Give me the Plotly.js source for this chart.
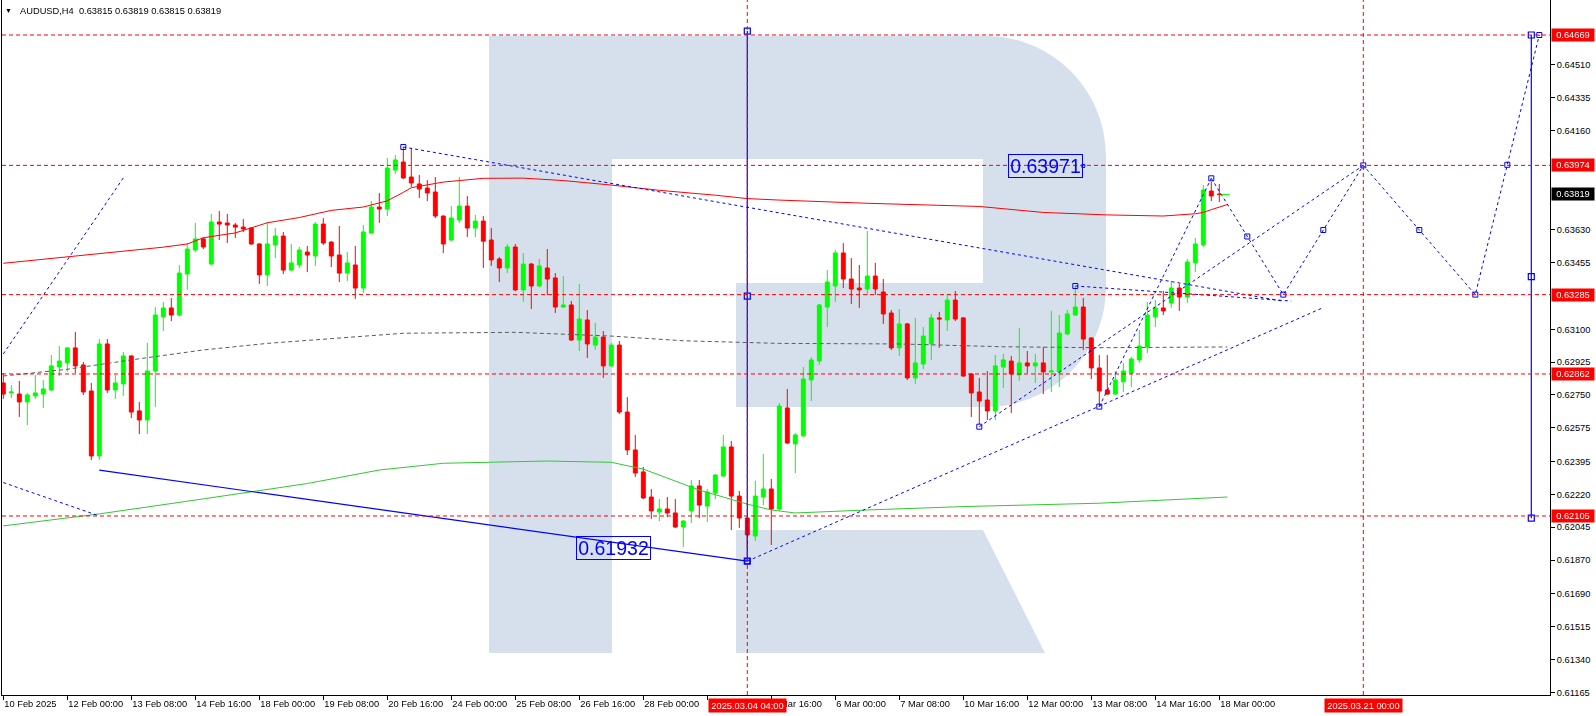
<!DOCTYPE html>
<html><head><meta charset="utf-8">
<script src="https://cdn.plot.ly/plotly-3.0.1.min.js"></script>
<style>html,body{margin:0;padding:0;background:#fff;overflow:hidden}#chart{width:1596px;height:716px}</style>
</head><body><div id="chart"></div>
<script>
// ---------- DATA (AUDUSD H4, one bar per index, 0 = 10 Feb 2025 16:00) ----------
const open = [
0.62814,0.62761,0.62755,0.62713,0.62745,0.62755,0.62777,0.62899,0.62921,0.63001,
0.62910,0.62771,0.62425,0.63022,0.62777,0.62809,0.62958,0.62665,0.62617,0.62878,
0.63166,0.63214,0.63176,0.63395,0.63523,0.63582,0.63448,0.63672,0.63667,0.63656,
0.63645,0.63640,0.63555,0.63390,0.63550,0.63597,0.63416,0.63443,0.63512,0.63491,
0.63661,0.63565,0.63496,0.63400,0.63443,0.63320,0.63613,0.63752,0.63741,0.63949,
0.63992,0.63912,0.63875,0.63853,0.63832,0.63704,0.63576,0.63683,0.63757,0.63640,
0.63677,0.63576,0.63475,0.63427,0.63539,0.63310,0.63448,0.63331,0.63427,0.63374,
0.63219,0.63230,0.63043,0.63150,0.63016,0.63059,0.62905,0.63016,0.62659,0.62457,
0.62340,0.62206,0.62126,0.62142,0.62121,0.62046,0.62132,0.62265,0.62158,0.62227,
0.62318,0.62473,0.62211,0.62094,0.61998,0.62206,0.62249,0.62142,0.62681,0.62489,
0.62532,0.62830,0.62931,0.63219,0.63331,0.63507,0.63368,0.63320,0.63315,0.63384,
0.63299,0.63187,0.63001,0.63129,0.62841,0.62915,0.63022,0.63161,0.63150,0.63256,
0.63161,0.62862,0.62766,0.62723,0.62665,0.62899,0.62931,0.62857,0.62921,0.62905,
0.62921,0.62873,0.62873,0.63075,0.63176,0.63219,0.63054,0.62894,0.62777,0.62755,
0.62820,0.62867,0.62937,0.63006,0.63166,0.63214,0.63240,0.63320,0.63272,0.63454,
0.63550,0.63837,0.63821];
const high = [
0.62867,0.62803,0.62825,0.62761,0.62857,0.62830,0.62963,0.63011,0.63006,0.63086,
0.62926,0.62814,0.63048,0.63048,0.62857,0.62979,0.62963,0.62713,0.63027,0.63219,
0.63246,0.63267,0.63443,0.63560,0.63667,0.63592,0.63715,0.63731,0.63715,0.63667,
0.63688,0.63645,0.63560,0.63672,0.63640,0.63619,0.63555,0.63539,0.63544,0.63672,
0.63693,0.63570,0.63651,0.63512,0.63544,0.63656,0.63784,0.63827,0.64013,0.64029,
0.64072,0.64067,0.63923,0.63896,0.63912,0.63707,0.63757,0.63912,0.63810,0.63710,
0.63704,0.63640,0.63485,0.63555,0.63555,0.63507,0.63454,0.63475,0.63528,0.63400,
0.63384,0.63251,0.63342,0.63203,0.63134,0.63091,0.63027,0.63038,0.62739,0.62537,
0.62366,0.62249,0.62195,0.62206,0.62195,0.62084,0.62297,0.62297,0.62249,0.62329,
0.62537,0.62505,0.62238,0.62105,0.62292,0.62435,0.62302,0.62707,0.62782,0.62548,
0.62899,0.62952,0.63235,0.63416,0.63523,0.63560,0.63480,0.63443,0.63624,0.63454,
0.63368,0.63203,0.63208,0.63134,0.63161,0.63112,0.63182,0.63193,0.63288,0.63304,
0.63166,0.62867,0.62841,0.62878,0.62963,0.62969,0.62958,0.63107,0.62985,0.62969,
0.63006,0.63198,0.63176,0.63203,0.63331,0.63267,0.63059,0.62963,0.62963,0.62878,
0.62921,0.62952,0.63096,0.63246,0.63256,0.63304,0.63358,0.63342,0.63475,0.63587,
0.63869,0.63885,0.63875];
const low = [
0.62729,0.62734,0.62633,0.62590,0.62729,0.62681,0.62771,0.62851,0.62873,0.62867,
0.62750,0.62403,0.62403,0.62761,0.62729,0.62745,0.62627,0.62542,0.62542,0.62686,
0.63091,0.63144,0.63171,0.63310,0.63512,0.63528,0.63443,0.63576,0.63560,0.63587,
0.63619,0.63550,0.63342,0.63331,0.63480,0.63395,0.63411,0.63427,0.63405,0.63438,
0.63550,0.63432,0.63352,0.63358,0.63262,0.63294,0.63608,0.63667,0.63704,0.63928,
0.63901,0.63859,0.63800,0.63784,0.63693,0.63507,0.63570,0.63667,0.63592,0.63592,
0.63427,0.63438,0.63352,0.63400,0.63304,0.63246,0.63208,0.63326,0.63283,0.63187,
0.63214,0.63038,0.62984,0.62947,0.62990,0.62841,0.62899,0.62649,0.62430,0.62313,
0.62195,0.62089,0.62078,0.62099,0.62041,0.61940,0.62068,0.62094,0.62073,0.62195,
0.62313,0.62030,0.62041,0.61932,0.61972,0.62163,0.61950,0.62132,0.62489,0.62334,
0.62526,0.62718,0.62910,0.63112,0.63246,0.63320,0.63235,0.63214,0.63283,0.63283,
0.63129,0.62990,0.62958,0.62830,0.62809,0.62888,0.62937,0.63001,0.63091,0.63144,
0.62846,0.62633,0.62595,0.62617,0.62617,0.62787,0.62654,0.62825,0.62867,0.62814,
0.62755,0.62766,0.62793,0.63070,0.63171,0.62990,0.62835,0.62697,0.62750,0.62750,
0.62766,0.62793,0.62921,0.62974,0.63112,0.63176,0.63214,0.63198,0.63240,0.63405,
0.63539,0.63784,0.63779];
const close = [
0.62755,0.62766,0.62713,0.62750,0.62761,0.62782,0.62905,0.62931,0.63001,0.62905,
0.62766,0.62425,0.63022,0.62777,0.62814,0.62958,0.62659,0.62617,0.62878,0.63176,
0.63214,0.63176,0.63400,0.63528,0.63582,0.63539,0.63672,0.63661,0.63656,0.63645,
0.63635,0.63555,0.63390,0.63555,0.63597,0.63416,0.63454,0.63523,0.63496,0.63661,
0.63560,0.63491,0.63400,0.63454,0.63320,0.63619,0.63752,0.63741,0.63960,0.64003,
0.63907,0.63880,0.63848,0.63827,0.63704,0.63555,0.63693,0.63757,0.63640,0.63677,
0.63570,0.63470,0.63427,0.63539,0.63310,0.63448,0.63331,0.63438,0.63368,0.63219,
0.63230,0.63043,0.63155,0.63022,0.63059,0.62905,0.63016,0.62659,0.62457,0.62334,
0.62201,0.62132,0.62142,0.62121,0.62046,0.62078,0.62265,0.62163,0.62233,0.62323,
0.62473,0.62211,0.62094,0.62004,0.62211,0.62249,0.62142,0.62691,0.62494,0.62537,
0.62835,0.62937,0.63230,0.63352,0.63507,0.63368,0.63315,0.63310,0.63384,0.63315,
0.63182,0.63001,0.63129,0.62841,0.62921,0.63064,0.63161,0.63155,0.63256,0.63155,
0.62851,0.62761,0.62718,0.62665,0.62905,0.62937,0.62862,0.62921,0.62905,0.62921,
0.62873,0.62878,0.63080,0.63182,0.63219,0.63048,0.62894,0.62771,0.62755,0.62830,
0.62878,0.62942,0.63011,0.63176,0.63214,0.63198,0.63320,0.63272,0.63459,0.63555,
0.63843,0.63811,0.63819];

// moving averages (bar index, value)
const maRedBars = [0,4,8,12,16,20,23,25,29,33,37,41,45,48,50,51,55,60,65,70,76,82,89,93,97,108,122,130,138,145,149,150,151,152,153];
const maRedVals = [0.63452,0.63469,0.63487,0.63501,0.63518,0.63538,0.63555,0.63588,0.63614,0.63668,0.63696,0.63734,0.63752,0.63785,0.63830,0.63855,0.63885,0.63905,0.63906,0.63893,0.63869,0.63841,0.63815,0.63797,0.63789,0.63772,0.63755,0.63723,0.63710,0.63704,0.63716,0.63723,0.63738,0.63753,0.63765];
const maGrayBars = [0,8,16,25,33,41,50,64,70,76,85,97,112,125,137,150,153];
const maGrayVals = [0.62851,0.62887,0.62937,0.62990,0.63025,0.63052,0.63079,0.63084,0.63075,0.63064,0.63039,0.63025,0.63022,0.63007,0.63002,0.63004,0.63006];
const maGreenBars = [0,12,25,38,47,55,68,76,80,84,87,90,93,96,99,108,120,137,150,153];
const maGreenVals = [0.62052,0.62116,0.62196,0.62278,0.62350,0.62386,0.62398,0.62391,0.62355,0.62291,0.62243,0.62206,0.62168,0.62137,0.62121,0.62137,0.62155,0.62173,0.62200,0.62206];

// horizontal price levels and marked times
const levels = [0.64669, 0.63974, 0.63285, 0.62862, 0.62105];
const lastPrice = 0.63819;
const markBars = [93, 170];
const markLabels = ["2025.03.04 04:00", "2025.03.21 00:00"];

// axis ticks
const tickBars = [0,8,16,24,32,40,48,56,64,72,80,88,96,104,112,120,128,136,144,152];
const tickLabels = ["10 Feb 2025","12 Feb 00:00","13 Feb 08:00","14 Feb 16:00","18 Feb 00:00","19 Feb 08:00","20 Feb 16:00","24 Feb 00:00","25 Feb 08:00","26 Feb 16:00","28 Feb 00:00","3 Mar 08:00","4 Mar 16:00","6 Mar 00:00","7 Mar 08:00","10 Mar 16:00","12 Mar 00:00","13 Mar 08:00","14 Mar 16:00","18 Mar 00:00"];
const priceTicks = [0.64510,0.64335,0.64160,0.63630,0.63455,0.63100,0.62925,0.62750,0.62575,0.62395,0.62220,0.62045,0.61870,0.61690,0.61515,0.61340,0.61165];

// drawn objects
const solidBars = [12, 93];            // solid trend line
const solidPrices = [0.62349, 0.61864];
const vBarsL = [93, 93];  const vPricesL = [0.64690, 0.61864];
const vBarsR = [191, 191]; const vPricesR = [0.64669, 0.62093];
const trendBarsA  = [0, 0, 50, 93, 134, 122, 137];
const trendPriceA = [0.62969, 0.62283, 0.64072, 0.61864, 0.63331, 0.62581, 0.62688];
const trendBarsB  = [15, 12, 160, 165, 161, 170, 151];
const trendPriceB = [0.63907, 0.62105, 0.63250, 0.63216, 0.63251, 0.63974, 0.63905];
const zigBars = [151, 160, 170, 184, 192];
const zigPrices = [0.63905, 0.63285, 0.63974, 0.63285, 0.64669];
const textPrices = [0.63971, 0.61932];
const textBars = [135, 81];

// ---------- FIGURE ----------
const FONT = 'Liberation Sans, Arial, sans-serif';
const BLUE = '#0000ff';
const bars = open.map((_, i) => i);
const traces = [];

traces.push({
  type: 'candlestick', x: bars, open: open, high: high, low: low, close: close,
  increasing: {line: {color: '#00ff00', width: 1}, fillcolor: '#00ff00'},
  decreasing: {line: {color: '#ff0000', width: 1}, fillcolor: '#ff0000'},
  whiskerwidth: 0, hoverinfo: 'skip', showlegend: false
});
traces.push({type:'scatter', mode:'lines', x: maGreenBars, y: maGreenVals, line:{color:'#32c832', width:1}, hoverinfo:'skip', showlegend:false});
traces.push({type:'scatter', mode:'lines', x: maGrayBars, y: maGrayVals, line:{color:'#5a5a5a', width:1, dash:'4px,3px'}, hoverinfo:'skip', showlegend:false});
traces.push({type:'scatter', mode:'lines', x: maRedBars, y: maRedVals, line:{color:'#ff0000', width:1}, hoverinfo:'skip', showlegend:false});

// dashed trend lines
for (let i = 0; i < trendBarsA.length; i++) {
  traces.push({type:'scatter', mode:'lines', x:[trendBarsA[i], trendBarsB[i]], y:[trendPriceA[i], trendPriceB[i]],
    line:{color:BLUE, width:1, dash:'3px,3px'}, hoverinfo:'skip', showlegend:false});
}
// handles on some dashed line starts
traces.push({type:'scatter', mode:'markers', x: trendBarsA.slice(2), y: trendPriceA.slice(2),
  marker:{symbol:'square-open', size:5, color:BLUE, line:{width:1}}, hoverinfo:'skip', showlegend:false});

// forecast zigzag with handles at anchors and midpoints
traces.push({type:'scatter', mode:'lines', x: zigBars, y: zigPrices, line:{color:BLUE, width:1, dash:'3px,3px'}, hoverinfo:'skip', showlegend:false});
const zmx = [], zmy = [];
for (let i = 0; i < zigBars.length; i++) {
  zmx.push(zigBars[i]); zmy.push(zigPrices[i]);
  if (i < zigBars.length - 1) { zmx.push((zigBars[i] + zigBars[i+1]) / 2); zmy.push((zigPrices[i] + zigPrices[i+1]) / 2); }
}
traces.push({type:'scatter', mode:'markers', x: zmx, y: zmy, marker:{symbol:'square-open', size:5, color:BLUE, line:{width:1}}, hoverinfo:'skip', showlegend:false});

// solid trend line + vertical lines
traces.push({type:'scatter', mode:'lines', x: solidBars, y: solidPrices, line:{color:BLUE, width:1.2}, hoverinfo:'skip', showlegend:false});
[[vBarsL, vPricesL], [vBarsR, vPricesR]].forEach(([bx, py]) => {
  traces.push({type:'scatter', mode:'lines+markers', x:[bx[0], bx[0], bx[1]], y:[py[0], (py[0]+py[1])/2, py[1]],
    line:{color:BLUE, width:1.2}, marker:{symbol:'square-open', size:6, color:BLUE, line:{width:1.2}}, hoverinfo:'skip', showlegend:false});
});
// text anchors
traces.push({type:'scatter', mode:'markers', x:[textBars[0]], y:[textPrices[0]], marker:{symbol:'square-open', size:3, color:BLUE, line:{width:1}}, hoverinfo:'skip', showlegend:false});
// last price tick
const lastBar = bars[bars.length - 1];
traces.push({type:'scatter', mode:'lines', x:[lastBar + 0.3, lastBar + 1.3], y:[close[lastBar], close[lastBar]], line:{color:'#00ff00', width:1}, hoverinfo:'skip', showlegend:false});

// ---------- watermark (pixel geometry -> paper coords) ----------
const PL = 2, PR = 1550, PT = 0, PB = 695;
const pp = (x, y) => ((x - PL) / (PR - PL)).toFixed(5) + ',' + ((PB - y) / (PB - PT)).toFixed(5);
const pathR = 'M' + pp(489,36) + 'L' + pp(986,36) + 'C' + pp(1052,36) + ' ' + pp(1106,90) + ' ' + pp(1106,156) +
  'L' + pp(1106,287) + 'C' + pp(1106,353) + ' ' + pp(1052,407) + ' ' + pp(986,407) +
  'L' + pp(736,407) + 'L' + pp(736,283) + 'L' + pp(983,283) + 'L' + pp(983,159) + 'L' + pp(612,159) +
  'L' + pp(612,653) + 'L' + pp(489,653) + 'Z';
const pathLeg = 'M' + pp(736,530) + 'L' + pp(983,530) + 'L' + pp(1045,653) + 'L' + pp(736,653) + 'Z';

const shapes = [
  {type:'path', xref:'paper', yref:'paper', path: pathR, fillcolor:'#d6e0ec', line:{width:0}, layer:'below'},
  {type:'path', xref:'paper', yref:'paper', path: pathLeg, fillcolor:'#d6e0ec', line:{width:0}, layer:'below'}
];
levels.forEach(v => shapes.push({type:'line', xref:'paper', x0:0, x1:1, yref:'y', y0:v, y1:v, line:{color:'#ff0000', width:1, dash:'4px,3px'}, layer:'above'}));
markBars.forEach(b => shapes.push({type:'line', xref:'x', x0:b, x1:b, yref:'paper', y0:0, y1:1, line:{color:'#ff0000', width:1, dash:'4px,3px'}, layer:'above'}));

// time labels fully hidden under a marked-time label are left blank (as in the terminal)
const shownTickText = tickLabels.map((t, i) => markBars.some(b => tickBars[i] <= b && b - tickBars[i] < 7) ? '' : t);

const annotations = [];
annotations.push({xref:'paper', yref:'paper', x:0, y:1, xanchor:'left', yanchor:'top', xshift:1, yshift:-5, text:'▼', showarrow:false, font:{family:FONT, size:7, color:'#000'}});
annotations.push({xref:'paper', yref:'paper', x:0, y:1, xanchor:'left', yanchor:'top', xshift:16, yshift:-4,
  text:'AUDUSD,H4\u00a0\u00a00.63815 0.63819 0.63815 0.63819', showarrow:false, font:{family:FONT, size:9.3, color:'#000'}});
levels.forEach(v => annotations.push({xref:'paper', x:1, xanchor:'left', xshift:1, yref:'y', y:v, yanchor:'middle',
  text:v.toFixed(5), showarrow:false, bgcolor:'#ff0000', borderpad:1, width:40, height:10, font:{family:FONT, size:9.3, color:'#fff'}}));
annotations.push({xref:'paper', x:1, xanchor:'left', xshift:1, yref:'y', y:lastPrice, yanchor:'middle',
  text:lastPrice.toFixed(5), showarrow:false, bgcolor:'#000', borderpad:1, width:40, height:10, font:{family:FONT, size:9.3, color:'#fff'}});
markBars.forEach((b, i) => annotations.push({xref:'x', x:b, xanchor:'center', yref:'paper', y:0, yanchor:'top', yshift:-3,
  text:markLabels[i], showarrow:false, bgcolor:'#ff0000', borderpad:1, width:75, height:11, font:{family:FONT, size:9.3, color:'#fff'}}));
textBars.forEach((b, i) => annotations.push({xref:'x', x:b, xanchor:'right', yref:'y', y:textPrices[i], yanchor:'middle',
  text:textPrices[i].toFixed(5), showarrow:false, bordercolor:BLUE, borderwidth:1, borderpad:0, width:73, height:22,
  font:{family:FONT, size:19.5, color:BLUE}}));

const layout = {
  width:1596, height:716, margin:{l:PL, r:1596-PR, t:PT, b:716-PB, pad:0},
  paper_bgcolor:'#ffffff', plot_bgcolor:'#ffffff', showlegend:false,
  xaxis:{range:[-0.1625, 193.3375], showgrid:false, zeroline:false, showline:true, linecolor:'#000', linewidth:1,
    ticks:'outside', ticklen:4, tickcolor:'#000', tickvals:tickBars, ticktext:shownTickText, ticklabelposition:'outside right',
    tickfont:{family:FONT, size:9.3, color:'#000'}, rangeslider:{visible:false}, fixedrange:true},
  yaxis:{side:'right', range:[0.611506, 0.648556], showgrid:false, zeroline:false, showline:true, mirror:true, linecolor:'#000', linewidth:1,
    ticks:'outside', ticklen:4, tickcolor:'#000', tickvals:priceTicks, ticktext:priceTicks.map(v => v.toFixed(5)),
    tickfont:{family:FONT, size:9.3, color:'#000'}, fixedrange:true},
  shapes: shapes, annotations: annotations
};

Plotly.newPlot('chart', traces, layout, {staticPlot:true, displayModeBar:false}).then(gd => {
  gd.querySelectorAll('.boxlayer .trace').forEach(el => { el.style.mixBlendMode = 'multiply'; });
});
</script></body></html>
